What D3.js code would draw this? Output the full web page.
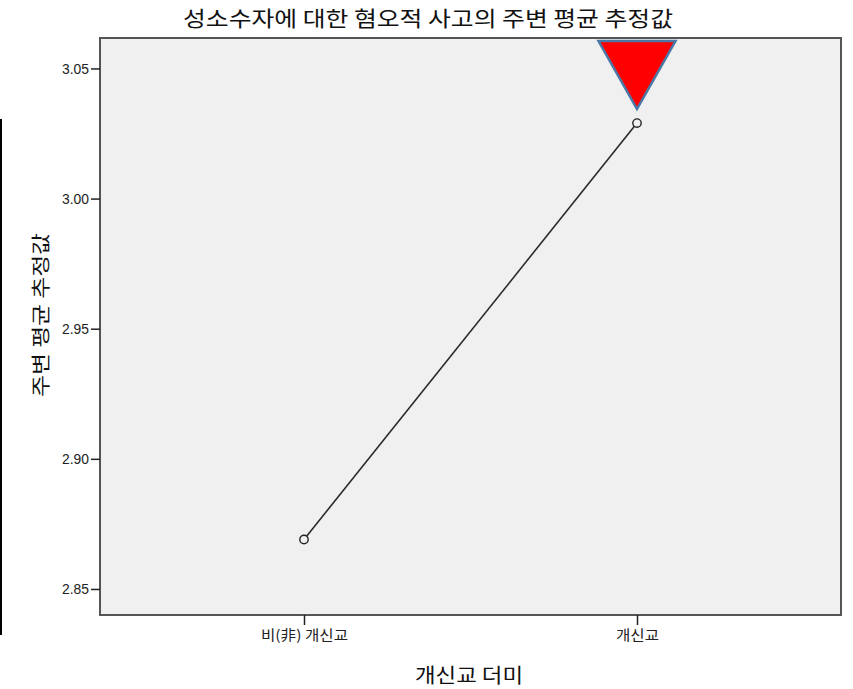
<!DOCTYPE html>
<html>
<head>
<meta charset="utf-8">
<script src="https://cdn.jsdelivr.net/npm/d3@7/dist/d3.min.js"></script>
<style>
  html, body { margin: 0; padding: 0; background: #ffffff; }
  svg { display: block; }
</style>
</head>
<body>
<svg id="chart" width="853" height="689"></svg>
<script>
// ---- data ----
const categories = ["비(非) 개신교", "개신교"];
const meanValues = [2.869, 3.029];
const yTickValues = [2.85, 2.90, 2.95, 3.00, 3.05];
const markerCategory = ["개신교"];
const titleText = "성소수자에 대한 혐오적 사고의 주변 평균 추정값";
const xTitleText = "개신교 더미";
const yTitleText = "주변 평균 추정값";

// ---- layout ----
const W = 853, H = 689;
const plot = { left: 100, top: 38, right: 841, bottom: 615 };
const svg = d3.select("#chart");
const korFont = "'Noto Sans CJK KR', 'Noto Sans', sans-serif";
const numFont = "'Liberation Sans', Arial, sans-serif";

const x = d3.scalePoint().domain(categories).range([plot.left, plot.right]).padding(0.6126);
const y = d3.scaleLinear().domain([2.8400, 3.0617]).range([plot.bottom, plot.top]);

// left black bar (artifact in reference)
svg.append("rect").attr("x", 0).attr("y", 119).attr("width", 2).attr("height", 516).attr("fill", "#000");

// plot background + frame
svg.append("rect")
  .attr("x", plot.left).attr("y", plot.top)
  .attr("width", plot.right - plot.left).attr("height", plot.bottom - plot.top)
  .attr("fill", "#f0f0f0").attr("stroke", "#555").attr("stroke-width", 2);

// y axis
const yAxis = d3.axisLeft(y).tickValues(yTickValues).tickFormat(d3.format(".2f")).tickSize(9).tickPadding(2);
const gy = svg.append("g").attr("transform", `translate(${plot.left},0)`).call(yAxis);
gy.select(".domain").remove();
gy.selectAll(".tick line").attr("stroke", "#222").attr("stroke-width", 1.5);
gy.selectAll(".tick text").attr("font-family", numFont).attr("font-size", 15).attr("fill", "#222")
  .attr("textLength", 27).attr("lengthAdjust", "spacingAndGlyphs");

// x axis
const xAxis = d3.axisBottom(x).tickSize(10).tickPadding(5);
const gx = svg.append("g").attr("transform", `translate(0,${plot.bottom})`).call(xAxis);
gx.select(".domain").remove();
gx.selectAll(".tick line").attr("stroke", "#222").attr("stroke-width", 1.5);
gx.selectAll(".tick text").attr("font-family", korFont).attr("font-size", 14).attr("fill", "#222")
  .attr("textLength", d => d === categories[0] ? 87 : 43).attr("lengthAdjust", "spacingAndGlyphs");

// line
const pts = categories.map((c, i) => ({ c, v: meanValues[i] }));
svg.append("path").datum(pts)
  .attr("d", d3.line().x(d => x(d.c)).y(d => y(d.v)))
  .attr("fill", "none").attr("stroke", "#2a2a2a").attr("stroke-width", 1.6);
svg.selectAll("circle.pt").data(pts).enter().append("circle")
  .attr("class", "pt")
  .attr("cx", d => x(d.c)).attr("cy", d => y(d.v)).attr("r", 4.2)
  .attr("fill", "#f0f0f0").attr("stroke", "#222").attr("stroke-width", 1.4);

// red triangle marker
svg.selectAll("path.marker").data(markerCategory).enter().append("path")
  .attr("class", "marker")
  .attr("d", d => {
    const cx = x(d), t = plot.top + 3;
    return `M${cx - 38.5},${t} L${cx + 38.5},${t} L${cx},${t + 68} Z`;
  })
  .attr("fill", "#ff0000").attr("stroke", "#4a78a6").attr("stroke-width", 2.5).attr("stroke-linejoin", "miter");

// titles
svg.append("text").attr("x", 183).attr("y", 26)
  .attr("font-family", korFont).attr("font-size", 21).attr("fill", "#111")
  .attr("textLength", 490).attr("lengthAdjust", "spacingAndGlyphs")
  .text(titleText);

svg.append("text").attr("x", 415).attr("y", 683)
  .attr("font-family", korFont).attr("font-size", 20).attr("fill", "#111")
  .attr("textLength", 108).attr("lengthAdjust", "spacingAndGlyphs")
  .text(xTitleText);

svg.append("text")
  .attr("transform", "translate(48,397) rotate(-90)")
  .attr("font-family", korFont).attr("font-size", 19).attr("fill", "#111")
  .attr("textLength", 164).attr("lengthAdjust", "spacingAndGlyphs")
  .text(yTitleText);
</script>
</body>
</html>
